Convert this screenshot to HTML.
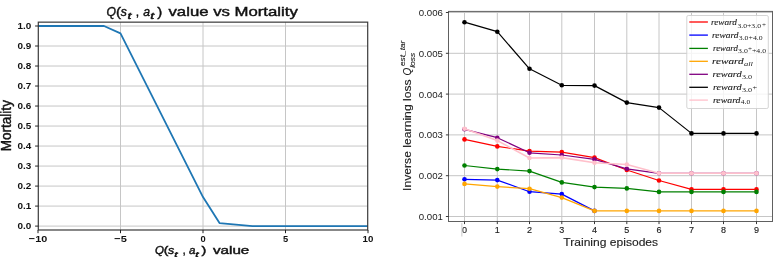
<!DOCTYPE html>
<html><head><meta charset="utf-8"><style>
html,body{margin:0;padding:0;background:#fff;}
svg{display:block;will-change:transform;}
.lt{font-family:"Liberation Sans", sans-serif;fill:#111;}
.lt2{stroke:#111;stroke-width:0.4px;}
.rt{font-family:"Liberation Sans", sans-serif;fill:#222;}
.rt2{stroke:#222;stroke-width:0.15px;}
.rt3{stroke:#222;stroke-width:0.12px;}
.lg{font-family:"Liberation Serif", serif;fill:#1a1a1a;}
.lgb{stroke:#1a1a1a;stroke-width:0.1px;}
</style></head><body>
<svg width="784" height="257" viewBox="0 0 784 257">
<rect width="784" height="257" fill="#fff"/>
<rect x="38.3" y="22.15" width="329.4" height="207.85" fill="#fff"/>
<line x1="38.3" y1="226.10" x2="367.7" y2="226.10" stroke="#c6c6c6" stroke-width="1"/>
<line x1="38.3" y1="206.09" x2="367.7" y2="206.09" stroke="#c6c6c6" stroke-width="1"/>
<line x1="38.3" y1="186.08" x2="367.7" y2="186.08" stroke="#c6c6c6" stroke-width="1"/>
<line x1="38.3" y1="166.07" x2="367.7" y2="166.07" stroke="#c6c6c6" stroke-width="1"/>
<line x1="38.3" y1="146.06" x2="367.7" y2="146.06" stroke="#c6c6c6" stroke-width="1"/>
<line x1="38.3" y1="126.05" x2="367.7" y2="126.05" stroke="#c6c6c6" stroke-width="1"/>
<line x1="38.3" y1="106.04" x2="367.7" y2="106.04" stroke="#c6c6c6" stroke-width="1"/>
<line x1="38.3" y1="86.03" x2="367.7" y2="86.03" stroke="#c6c6c6" stroke-width="1"/>
<line x1="38.3" y1="66.02" x2="367.7" y2="66.02" stroke="#c6c6c6" stroke-width="1"/>
<line x1="38.3" y1="46.01" x2="367.7" y2="46.01" stroke="#c6c6c6" stroke-width="1"/>
<line x1="38.3" y1="26.00" x2="367.7" y2="26.00" stroke="#c6c6c6" stroke-width="1"/>
<line x1="120.50" y1="22.15" x2="120.50" y2="230.0" stroke="#c6c6c6" stroke-width="1"/>
<line x1="203.00" y1="22.15" x2="203.00" y2="230.0" stroke="#c6c6c6" stroke-width="1"/>
<line x1="285.50" y1="22.15" x2="285.50" y2="230.0" stroke="#c6c6c6" stroke-width="1"/>
<polyline points="38.00,26.00 104.00,26.00 120.50,33.40 203.00,197.09 219.50,223.10 252.50,226.10 368.00,226.10" fill="none" stroke="#1f77b4" stroke-width="1.8" stroke-linejoin="round"/>
<rect x="38.3" y="22.15" width="329.40" height="207.85" fill="none" stroke="#3a3a3a" stroke-width="1.2"/>
<line x1="35.099999999999994" y1="226.10" x2="38.3" y2="226.10" stroke="#222" stroke-width="1"/>
<text x="31.3" y="229.30" text-anchor="end" font-size="9" font-weight="bold" textLength="13.8" lengthAdjust="spacingAndGlyphs" class="lt">0.0</text>
<line x1="35.099999999999994" y1="206.09" x2="38.3" y2="206.09" stroke="#222" stroke-width="1"/>
<text x="31.3" y="209.29" text-anchor="end" font-size="9" font-weight="bold" textLength="13.8" lengthAdjust="spacingAndGlyphs" class="lt">0.1</text>
<line x1="35.099999999999994" y1="186.08" x2="38.3" y2="186.08" stroke="#222" stroke-width="1"/>
<text x="31.3" y="189.28" text-anchor="end" font-size="9" font-weight="bold" textLength="13.8" lengthAdjust="spacingAndGlyphs" class="lt">0.2</text>
<line x1="35.099999999999994" y1="166.07" x2="38.3" y2="166.07" stroke="#222" stroke-width="1"/>
<text x="31.3" y="169.27" text-anchor="end" font-size="9" font-weight="bold" textLength="13.8" lengthAdjust="spacingAndGlyphs" class="lt">0.3</text>
<line x1="35.099999999999994" y1="146.06" x2="38.3" y2="146.06" stroke="#222" stroke-width="1"/>
<text x="31.3" y="149.26" text-anchor="end" font-size="9" font-weight="bold" textLength="13.8" lengthAdjust="spacingAndGlyphs" class="lt">0.4</text>
<line x1="35.099999999999994" y1="126.05" x2="38.3" y2="126.05" stroke="#222" stroke-width="1"/>
<text x="31.3" y="129.25" text-anchor="end" font-size="9" font-weight="bold" textLength="13.8" lengthAdjust="spacingAndGlyphs" class="lt">0.5</text>
<line x1="35.099999999999994" y1="106.04" x2="38.3" y2="106.04" stroke="#222" stroke-width="1"/>
<text x="31.3" y="109.24" text-anchor="end" font-size="9" font-weight="bold" textLength="13.8" lengthAdjust="spacingAndGlyphs" class="lt">0.6</text>
<line x1="35.099999999999994" y1="86.03" x2="38.3" y2="86.03" stroke="#222" stroke-width="1"/>
<text x="31.3" y="89.23" text-anchor="end" font-size="9" font-weight="bold" textLength="13.8" lengthAdjust="spacingAndGlyphs" class="lt">0.7</text>
<line x1="35.099999999999994" y1="66.02" x2="38.3" y2="66.02" stroke="#222" stroke-width="1"/>
<text x="31.3" y="69.22" text-anchor="end" font-size="9" font-weight="bold" textLength="13.8" lengthAdjust="spacingAndGlyphs" class="lt">0.8</text>
<line x1="35.099999999999994" y1="46.01" x2="38.3" y2="46.01" stroke="#222" stroke-width="1"/>
<text x="31.3" y="49.21" text-anchor="end" font-size="9" font-weight="bold" textLength="13.8" lengthAdjust="spacingAndGlyphs" class="lt">0.9</text>
<line x1="35.099999999999994" y1="26.00" x2="38.3" y2="26.00" stroke="#222" stroke-width="1"/>
<text x="31.3" y="29.20" text-anchor="end" font-size="9" font-weight="bold" textLength="13.8" lengthAdjust="spacingAndGlyphs" class="lt">1.0</text>
<line x1="38.00" y1="230.0" x2="38.00" y2="233.2" stroke="#222" stroke-width="1"/>
<text x="38.00" y="241.6" text-anchor="middle" font-size="9.6" font-weight="bold" textLength="18.4" lengthAdjust="spacingAndGlyphs" class="lt">−10</text>
<line x1="120.50" y1="230.0" x2="120.50" y2="233.2" stroke="#222" stroke-width="1"/>
<text x="120.50" y="241.6" text-anchor="middle" font-size="9.6" font-weight="bold" textLength="12.6" lengthAdjust="spacingAndGlyphs" class="lt">−5</text>
<line x1="203.00" y1="230.0" x2="203.00" y2="233.2" stroke="#222" stroke-width="1"/>
<text x="203.00" y="241.6" text-anchor="middle" font-size="9.6" font-weight="bold" textLength="5.2" lengthAdjust="spacingAndGlyphs" class="lt">0</text>
<line x1="285.50" y1="230.0" x2="285.50" y2="233.2" stroke="#222" stroke-width="1"/>
<text x="285.50" y="241.6" text-anchor="middle" font-size="9.6" font-weight="bold" textLength="5.2" lengthAdjust="spacingAndGlyphs" class="lt">5</text>
<line x1="368.00" y1="230.0" x2="368.00" y2="233.2" stroke="#222" stroke-width="1"/>
<text x="368.00" y="241.6" text-anchor="middle" font-size="9.6" font-weight="bold" textLength="10.8" lengthAdjust="spacingAndGlyphs" class="lt">10</text>
<text x="106.6" y="16.3" font-size="12.2" font-style="italic" class="lt lt2">Q</text>
<text x="115.9" y="16.3" font-size="12.2" textLength="5.0" lengthAdjust="spacingAndGlyphs" class="lt lt2">(</text>
<text x="120.8" y="16.3" font-size="12.2" font-style="italic" class="lt lt2">s</text>
<text x="127.4" y="18.6" font-size="9.2" font-style="italic" textLength="4.0" lengthAdjust="spacingAndGlyphs" class="lt lt2">t</text>
<text x="135.8" y="16.3" font-size="12.2" class="lt lt2">,</text>
<text x="143.2" y="16.3" font-size="12.2" font-style="italic" class="lt lt2">a</text>
<text x="150.2" y="18.6" font-size="9.2" font-style="italic" textLength="4.0" lengthAdjust="spacingAndGlyphs" class="lt lt2">t</text>
<text x="157.2" y="16.3" font-size="12.2" textLength="5.0" lengthAdjust="spacingAndGlyphs" class="lt lt2">)</text>
<text x="168.5" y="16.3" font-size="12.2" textLength="129.3" lengthAdjust="spacingAndGlyphs" class="lt lt2">value vs Mortality</text>
<text x="155.0" y="254.4" font-size="10.2" font-style="italic" textLength="9.0" lengthAdjust="spacingAndGlyphs" class="lt lt2">Q</text>
<text x="163.8" y="254.4" font-size="10.2" textLength="4.6" lengthAdjust="spacingAndGlyphs" class="lt lt2">(</text>
<text x="168.1" y="254.4" font-size="10.2" font-style="italic" textLength="6.2" lengthAdjust="spacingAndGlyphs" class="lt lt2">s</text>
<text x="174.2" y="256.6" font-size="7.4" font-style="italic" textLength="3.4" lengthAdjust="spacingAndGlyphs" class="lt lt2">t</text>
<text x="182.8" y="254.4" font-size="10.2" class="lt lt2">,</text>
<text x="189.0" y="254.4" font-size="10.2" font-style="italic" textLength="6.4" lengthAdjust="spacingAndGlyphs" class="lt lt2">a</text>
<text x="195.2" y="256.6" font-size="7.4" font-style="italic" textLength="3.4" lengthAdjust="spacingAndGlyphs" class="lt lt2">t</text>
<text x="201.4" y="254.4" font-size="10.2" textLength="4.8" lengthAdjust="spacingAndGlyphs" class="lt lt2">)</text>
<text x="213.0" y="254.4" font-size="10.2" textLength="36.3" lengthAdjust="spacingAndGlyphs" class="lt lt2">value</text>
<text transform="translate(11.0,125.7) rotate(-90)" x="0" y="0" text-anchor="middle" font-size="14.4" textLength="51.2" lengthAdjust="spacingAndGlyphs" class="lt lt2">Mortality</text>
<rect x="448.5" y="11.4" width="324.00" height="210.10" fill="#fff"/>
<line x1="464.50" y1="11.4" x2="464.50" y2="221.5" stroke="#c6c6c6" stroke-width="1"/>
<line x1="497.30" y1="11.4" x2="497.30" y2="221.5" stroke="#c6c6c6" stroke-width="1"/>
<line x1="529.50" y1="11.4" x2="529.50" y2="221.5" stroke="#c6c6c6" stroke-width="1"/>
<line x1="561.80" y1="11.4" x2="561.80" y2="221.5" stroke="#c6c6c6" stroke-width="1"/>
<line x1="594.50" y1="11.4" x2="594.50" y2="221.5" stroke="#c6c6c6" stroke-width="1"/>
<line x1="626.80" y1="11.4" x2="626.80" y2="221.5" stroke="#c6c6c6" stroke-width="1"/>
<line x1="659.00" y1="11.4" x2="659.00" y2="221.5" stroke="#c6c6c6" stroke-width="1"/>
<line x1="691.50" y1="11.4" x2="691.50" y2="221.5" stroke="#c6c6c6" stroke-width="1"/>
<line x1="723.50" y1="11.4" x2="723.50" y2="221.5" stroke="#c6c6c6" stroke-width="1"/>
<line x1="756.50" y1="11.4" x2="756.50" y2="221.5" stroke="#c6c6c6" stroke-width="1"/>
<line x1="448.5" y1="216.50" x2="772.5" y2="216.50" stroke="#c6c6c6" stroke-width="1"/>
<line x1="448.5" y1="175.70" x2="772.5" y2="175.70" stroke="#c6c6c6" stroke-width="1"/>
<line x1="448.5" y1="134.90" x2="772.5" y2="134.90" stroke="#c6c6c6" stroke-width="1"/>
<line x1="448.5" y1="94.10" x2="772.5" y2="94.10" stroke="#c6c6c6" stroke-width="1"/>
<line x1="448.5" y1="53.30" x2="772.5" y2="53.30" stroke="#c6c6c6" stroke-width="1"/>
<line x1="448.5" y1="12.50" x2="772.5" y2="12.50" stroke="#c6c6c6" stroke-width="1"/>
<polyline points="464.50,139.40 497.30,146.40 529.50,151.10 561.80,152.10 594.50,157.60 626.80,170.00 659.00,180.50 691.50,189.40 723.50,189.40 756.50,189.40" fill="none" stroke="#ff0000" stroke-width="1.2" stroke-linejoin="round"/>
<circle cx="464.50" cy="139.40" r="2.3" fill="#ff0000"/>
<circle cx="497.30" cy="146.40" r="2.3" fill="#ff0000"/>
<circle cx="529.50" cy="151.10" r="2.3" fill="#ff0000"/>
<circle cx="561.80" cy="152.10" r="2.3" fill="#ff0000"/>
<circle cx="594.50" cy="157.60" r="2.3" fill="#ff0000"/>
<circle cx="626.80" cy="170.00" r="2.3" fill="#ff0000"/>
<circle cx="659.00" cy="180.50" r="2.3" fill="#ff0000"/>
<circle cx="691.50" cy="189.40" r="2.3" fill="#ff0000"/>
<circle cx="723.50" cy="189.40" r="2.3" fill="#ff0000"/>
<circle cx="756.50" cy="189.40" r="2.3" fill="#ff0000"/>
<polyline points="464.50,179.30 497.30,180.10 529.50,191.70 561.80,194.10 594.50,210.90" fill="none" stroke="#0000ff" stroke-width="1.2" stroke-linejoin="round"/>
<circle cx="464.50" cy="179.30" r="2.3" fill="#0000ff"/>
<circle cx="497.30" cy="180.10" r="2.3" fill="#0000ff"/>
<circle cx="529.50" cy="191.70" r="2.3" fill="#0000ff"/>
<circle cx="561.80" cy="194.10" r="2.3" fill="#0000ff"/>
<circle cx="594.50" cy="210.90" r="2.3" fill="#0000ff"/>
<polyline points="464.50,165.50 497.30,169.10 529.50,171.10 561.80,182.40 594.50,187.10 626.80,188.40 659.00,191.90 691.50,191.90 723.50,191.90 756.50,191.90" fill="none" stroke="#008000" stroke-width="1.2" stroke-linejoin="round"/>
<circle cx="464.50" cy="165.50" r="2.3" fill="#008000"/>
<circle cx="497.30" cy="169.10" r="2.3" fill="#008000"/>
<circle cx="529.50" cy="171.10" r="2.3" fill="#008000"/>
<circle cx="561.80" cy="182.40" r="2.3" fill="#008000"/>
<circle cx="594.50" cy="187.10" r="2.3" fill="#008000"/>
<circle cx="626.80" cy="188.40" r="2.3" fill="#008000"/>
<circle cx="659.00" cy="191.90" r="2.3" fill="#008000"/>
<circle cx="691.50" cy="191.90" r="2.3" fill="#008000"/>
<circle cx="723.50" cy="191.90" r="2.3" fill="#008000"/>
<circle cx="756.50" cy="191.90" r="2.3" fill="#008000"/>
<polyline points="464.50,183.90 497.30,186.60 529.50,188.70 561.80,197.60 594.50,210.90 626.80,210.90 659.00,210.90 691.50,210.90 723.50,210.90 756.50,210.90" fill="none" stroke="#ffa500" stroke-width="1.2" stroke-linejoin="round"/>
<circle cx="464.50" cy="183.90" r="2.3" fill="#ffa500"/>
<circle cx="497.30" cy="186.60" r="2.3" fill="#ffa500"/>
<circle cx="529.50" cy="188.70" r="2.3" fill="#ffa500"/>
<circle cx="561.80" cy="197.60" r="2.3" fill="#ffa500"/>
<circle cx="594.50" cy="210.90" r="2.3" fill="#ffa500"/>
<circle cx="626.80" cy="210.90" r="2.3" fill="#ffa500"/>
<circle cx="659.00" cy="210.90" r="2.3" fill="#ffa500"/>
<circle cx="691.50" cy="210.90" r="2.3" fill="#ffa500"/>
<circle cx="723.50" cy="210.90" r="2.3" fill="#ffa500"/>
<circle cx="756.50" cy="210.90" r="2.3" fill="#ffa500"/>
<polyline points="464.50,129.30 497.30,137.70 529.50,152.80 561.80,155.00 594.50,159.40 626.80,168.80 659.00,173.30 691.50,173.30 723.50,173.30 756.50,173.30" fill="none" stroke="#800080" stroke-width="1.2" stroke-linejoin="round"/>
<circle cx="464.50" cy="129.30" r="2.3" fill="#800080"/>
<circle cx="497.30" cy="137.70" r="2.3" fill="#800080"/>
<circle cx="529.50" cy="152.80" r="2.3" fill="#800080"/>
<circle cx="561.80" cy="155.00" r="2.3" fill="#800080"/>
<circle cx="594.50" cy="159.40" r="2.3" fill="#800080"/>
<circle cx="626.80" cy="168.80" r="2.3" fill="#800080"/>
<circle cx="659.00" cy="173.30" r="2.3" fill="#800080"/>
<circle cx="691.50" cy="173.30" r="2.3" fill="#800080"/>
<circle cx="723.50" cy="173.30" r="2.3" fill="#800080"/>
<circle cx="756.50" cy="173.30" r="2.3" fill="#800080"/>
<polyline points="464.50,22.20 497.30,31.70 529.50,68.80 561.80,85.30 594.50,85.60 626.80,102.60 659.00,107.60 691.50,133.40 723.50,133.40 756.50,133.40" fill="none" stroke="#000000" stroke-width="1.2" stroke-linejoin="round"/>
<circle cx="464.50" cy="22.20" r="2.3" fill="#000000"/>
<circle cx="497.30" cy="31.70" r="2.3" fill="#000000"/>
<circle cx="529.50" cy="68.80" r="2.3" fill="#000000"/>
<circle cx="561.80" cy="85.30" r="2.3" fill="#000000"/>
<circle cx="594.50" cy="85.60" r="2.3" fill="#000000"/>
<circle cx="626.80" cy="102.60" r="2.3" fill="#000000"/>
<circle cx="659.00" cy="107.60" r="2.3" fill="#000000"/>
<circle cx="691.50" cy="133.40" r="2.3" fill="#000000"/>
<circle cx="723.50" cy="133.40" r="2.3" fill="#000000"/>
<circle cx="756.50" cy="133.40" r="2.3" fill="#000000"/>
<polyline points="464.50,128.80 497.30,140.60 529.50,158.00 561.80,157.60 594.50,162.70 626.80,164.50 659.00,173.30 691.50,173.30 723.50,173.30 756.50,173.30" fill="none" stroke="#ffc0cb" stroke-width="1.6" stroke-linejoin="round"/>
<circle cx="464.50" cy="128.80" r="2.3" fill="#ffc0cb"/>
<circle cx="497.30" cy="140.60" r="2.3" fill="#ffc0cb"/>
<circle cx="529.50" cy="158.00" r="2.3" fill="#ffc0cb"/>
<circle cx="561.80" cy="157.60" r="2.3" fill="#ffc0cb"/>
<circle cx="594.50" cy="162.70" r="2.3" fill="#ffc0cb"/>
<circle cx="626.80" cy="164.50" r="2.3" fill="#ffc0cb"/>
<circle cx="659.00" cy="173.30" r="2.3" fill="#ffc0cb"/>
<circle cx="691.50" cy="173.30" r="2.3" fill="#ffc0cb"/>
<circle cx="723.50" cy="173.30" r="2.3" fill="#ffc0cb"/>
<circle cx="756.50" cy="173.30" r="2.3" fill="#ffc0cb"/>
<rect x="448.5" y="11.4" width="324.00" height="210.10" fill="none" stroke="#606060" stroke-width="1"/>
<line x1="445.9" y1="216.50" x2="448.5" y2="216.50" stroke="#222" stroke-width="0.9"/>
<text x="442.9" y="219.90" text-anchor="end" font-size="9.2" textLength="24.2" lengthAdjust="spacingAndGlyphs" class="rt">0.001</text>
<line x1="445.9" y1="175.70" x2="448.5" y2="175.70" stroke="#222" stroke-width="0.9"/>
<text x="442.9" y="179.10" text-anchor="end" font-size="9.2" textLength="24.2" lengthAdjust="spacingAndGlyphs" class="rt">0.002</text>
<line x1="445.9" y1="134.90" x2="448.5" y2="134.90" stroke="#222" stroke-width="0.9"/>
<text x="442.9" y="138.30" text-anchor="end" font-size="9.2" textLength="24.2" lengthAdjust="spacingAndGlyphs" class="rt">0.003</text>
<line x1="445.9" y1="94.10" x2="448.5" y2="94.10" stroke="#222" stroke-width="0.9"/>
<text x="442.9" y="97.50" text-anchor="end" font-size="9.2" textLength="24.2" lengthAdjust="spacingAndGlyphs" class="rt">0.004</text>
<line x1="445.9" y1="53.30" x2="448.5" y2="53.30" stroke="#222" stroke-width="0.9"/>
<text x="442.9" y="56.70" text-anchor="end" font-size="9.2" textLength="24.2" lengthAdjust="spacingAndGlyphs" class="rt">0.005</text>
<line x1="445.9" y1="12.50" x2="448.5" y2="12.50" stroke="#222" stroke-width="0.9"/>
<text x="442.9" y="15.90" text-anchor="end" font-size="9.2" textLength="24.2" lengthAdjust="spacingAndGlyphs" class="rt">0.006</text>
<line x1="464.50" y1="221.5" x2="464.50" y2="224.1" stroke="#222" stroke-width="0.9"/>
<text x="464.50" y="232.9" text-anchor="middle" font-size="9" class="rt rt2">0</text>
<line x1="497.30" y1="221.5" x2="497.30" y2="224.1" stroke="#222" stroke-width="0.9"/>
<text x="497.30" y="232.9" text-anchor="middle" font-size="9" class="rt rt2">1</text>
<line x1="529.50" y1="221.5" x2="529.50" y2="224.1" stroke="#222" stroke-width="0.9"/>
<text x="529.50" y="232.9" text-anchor="middle" font-size="9" class="rt rt2">2</text>
<line x1="561.80" y1="221.5" x2="561.80" y2="224.1" stroke="#222" stroke-width="0.9"/>
<text x="561.80" y="232.9" text-anchor="middle" font-size="9" class="rt rt2">3</text>
<line x1="594.50" y1="221.5" x2="594.50" y2="224.1" stroke="#222" stroke-width="0.9"/>
<text x="594.50" y="232.9" text-anchor="middle" font-size="9" class="rt rt2">4</text>
<line x1="626.80" y1="221.5" x2="626.80" y2="224.1" stroke="#222" stroke-width="0.9"/>
<text x="626.80" y="232.9" text-anchor="middle" font-size="9" class="rt rt2">5</text>
<line x1="659.00" y1="221.5" x2="659.00" y2="224.1" stroke="#222" stroke-width="0.9"/>
<text x="659.00" y="232.9" text-anchor="middle" font-size="9" class="rt rt2">6</text>
<line x1="691.50" y1="221.5" x2="691.50" y2="224.1" stroke="#222" stroke-width="0.9"/>
<text x="691.50" y="232.9" text-anchor="middle" font-size="9" class="rt rt2">7</text>
<line x1="723.50" y1="221.5" x2="723.50" y2="224.1" stroke="#222" stroke-width="0.9"/>
<text x="723.50" y="232.9" text-anchor="middle" font-size="9" class="rt rt2">8</text>
<line x1="756.50" y1="221.5" x2="756.50" y2="224.1" stroke="#222" stroke-width="0.9"/>
<text x="756.50" y="232.9" text-anchor="middle" font-size="9" class="rt rt2">9</text>
<rect x="461.3" y="223" width="1.1" height="13.5" fill="#cfcfcf"/>
<text x="610.7" y="245.7" text-anchor="middle" font-size="10.8" textLength="94.8" lengthAdjust="spacingAndGlyphs" class="rt rt3">Training episodes</text>
<g transform="translate(411.2,191) rotate(-90)" class="rt rt3"><text x="0" y="0" font-size="11" textLength="111.7" lengthAdjust="spacingAndGlyphs">Inverse learning loss</text><text x="115.4" y="0" font-size="11" font-style="italic" textLength="7.8" lengthAdjust="spacingAndGlyphs">Q</text><text x="123.2" y="4.1" font-size="7.2" font-style="italic" textLength="15" lengthAdjust="spacingAndGlyphs">loss</text><text x="125" y="-5.8" font-size="7.4" font-style="italic" textLength="25.3" lengthAdjust="spacingAndGlyphs">est_tar</text></g>
<rect x="686.8" y="15.5" width="81.50" height="93.00" rx="1.5" fill="#fff" fill-opacity="0.8" stroke="#d0d0d0" stroke-width="0.9"/>
<line x1="689.3" y1="22.0" x2="707.9" y2="22.0" stroke="#ff0000" stroke-width="1.3"/>
<line x1="689.3" y1="35.1" x2="707.9" y2="35.1" stroke="#0000ff" stroke-width="1.3"/>
<line x1="689.3" y1="48.4" x2="707.9" y2="48.4" stroke="#008000" stroke-width="1.3"/>
<line x1="689.3" y1="61.3" x2="707.9" y2="61.3" stroke="#ffa500" stroke-width="1.3"/>
<line x1="689.3" y1="74.3" x2="707.9" y2="74.3" stroke="#800080" stroke-width="1.3"/>
<line x1="689.3" y1="87.3" x2="707.9" y2="87.3" stroke="#000000" stroke-width="1.3"/>
<line x1="689.3" y1="100.1" x2="707.9" y2="100.1" stroke="#ffc0cb" stroke-width="1.3"/>
<text x="710.9" y="25.2" font-size="8.3" font-style="italic" textLength="26.0" lengthAdjust="spacingAndGlyphs" class="lg lgb">reward</text>
<text x="737.4" y="27.8" font-size="6.8" textLength="23.6" lengthAdjust="spacingAndGlyphs" class="lg">3.0+3.0</text>
<text x="761.9" y="26.6" font-size="6.4" textLength="4.0" lengthAdjust="spacingAndGlyphs" class="lg">+</text>
<text x="712.0" y="37.9" font-size="8.3" font-style="italic" textLength="26.6" lengthAdjust="spacingAndGlyphs" class="lg lgb">reward</text>
<text x="738.8" y="40.3" font-size="6.8" textLength="23.8" lengthAdjust="spacingAndGlyphs" class="lg">3.0+4.0</text>
<text x="713.1" y="50.5" font-size="8.3" font-style="italic" textLength="24.7" lengthAdjust="spacingAndGlyphs" class="lg lgb">reward</text>
<text x="738.0" y="52.9" font-size="6.8" textLength="9.8" lengthAdjust="spacingAndGlyphs" class="lg">3.0</text>
<text x="747.9" y="51.2" font-size="6.4" textLength="4.0" lengthAdjust="spacingAndGlyphs" class="lg">+</text>
<text x="752.0" y="52.9" font-size="6.8" textLength="14.0" lengthAdjust="spacingAndGlyphs" class="lg">+4.0</text>
<text x="712.0" y="63.8" font-size="8.3" font-style="italic" textLength="31.6" lengthAdjust="spacingAndGlyphs" class="lg lgb">reward</text>
<text x="744.0" y="65.6" font-size="6.8" font-style="italic" textLength="9.0" lengthAdjust="spacingAndGlyphs" class="lg">all</text>
<text x="712.5" y="76.8" font-size="8.3" font-style="italic" textLength="29.2" lengthAdjust="spacingAndGlyphs" class="lg lgb">reward</text>
<text x="742.0" y="78.6" font-size="6.8" textLength="10.2" lengthAdjust="spacingAndGlyphs" class="lg">3.0</text>
<text x="712.9" y="89.5" font-size="8.3" font-style="italic" textLength="28.8" lengthAdjust="spacingAndGlyphs" class="lg lgb">reward</text>
<text x="742.0" y="91.6" font-size="6.8" textLength="10.2" lengthAdjust="spacingAndGlyphs" class="lg">3.0</text>
<text x="752.5" y="90.2" font-size="6.4" textLength="4.6" lengthAdjust="spacingAndGlyphs" class="lg">+</text>
<text x="712.9" y="102.6" font-size="8.3" font-style="italic" textLength="27.6" lengthAdjust="spacingAndGlyphs" class="lg lgb">reward</text>
<text x="740.8" y="104.4" font-size="6.8" textLength="9.4" lengthAdjust="spacingAndGlyphs" class="lg">4.0</text>
</svg>
</body></html>
